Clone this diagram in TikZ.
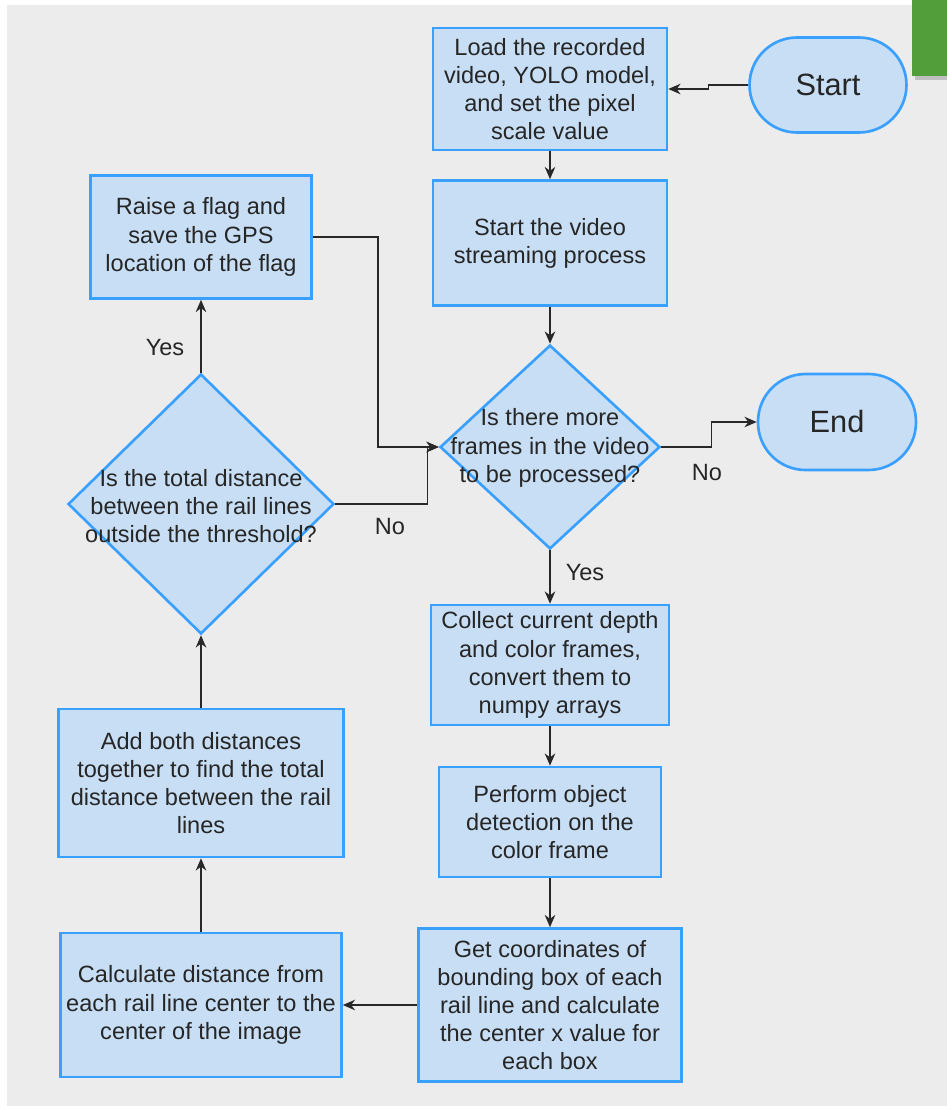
\documentclass[tikz,border=0pt]{standalone}
\usepackage{fontspec}
\setmainfont{Liberation Sans}
\usetikzlibrary{shapes.geometric,arrows.meta}

\definecolor{hintergrund}{RGB}{236,236,236}
\definecolor{kastenrand}{RGB}{58,160,255}
\definecolor{kastenfuell}{RGB}{200,222,244}
\definecolor{linie}{RGB}{40,40,40}
\definecolor{gruen}{RGB}{82,158,58}

\tikzset{
    kasten/.style={rectangle, draw=kastenrand, fill=kastenfuell, line width=1.5pt, align=center, inner sep=0pt},
    raute/.style={diamond, draw=kastenrand, fill=kastenfuell, line width=1.5pt, inner sep=0pt},
    terminal/.style={rectangle, rounded corners=0.95cm, draw=kastenrand, fill=kastenfuell, line width=1.5pt, font=\fontsize{17.5}{20}\selectfont},
    pfeil/.style={draw=linie, line width=0.8pt, -{Stealth[length=7pt,width=6pt]}},
    beschr/.style={font=\fontsize{13.4}{16}\selectfont}
}

\begin{document}
\begin{tikzpicture}[x=0.02cm, y=-0.02cm, font=\fontsize{13.4}{16}\selectfont, text=black!85]
            \useasboundingbox (0,0) rectangle (947,1106);
            \fill[white] (0,0) rectangle (947,1106);
            \fill[hintergrund] (7,5) rectangle (947,1106);
            \fill[black!25] (915,3) rectangle (947,80);
            \fill[gruen] (912,0) rectangle (947,76);

            % Kaesten rechts
            \node[kasten, minimum width=4.68cm, minimum height=2.44cm] (laden) at (550,89) {Load the recorded\\video, YOLO model,\\and set the pixel\\scale value};
            \node[terminal, minimum width=3.14cm, minimum height=1.9cm] (start) at (828,85) {Start};
            \node[kasten, minimum width=4.68cm, minimum height=2.5cm] (stream) at (550,243) {Start the video\\streaming process};
            \node[raute, minimum width=4.4cm, minimum height=4.08cm] (frage1) at (550,447) {};
            \node[align=center, inner sep=0pt] (frage1txt) at (550,448) {Is there more\\frames in the video\\to be processed?};
            \node[terminal, minimum width=3.16cm, minimum height=1.92cm] (ende) at (837,422) {End};
            \node[kasten, minimum width=4.76cm, minimum height=2.4cm] (sammeln) at (550,665) {Collect current depth\\and color frames,\\convert them to\\numpy arrays};
            \node[kasten, minimum width=4.44cm, minimum height=2.2cm] (erkennen) at (550,822) {Perform object\\detection on the\\color frame};
            \node[kasten, minimum width=5.26cm, minimum height=3.06cm] (koord) at (550,1005) {Get coordinates of\\bounding box of each\\rail line and calculate\\the center x value for\\each box};

            % Kaesten links
            \node[kasten, minimum width=5.62cm, minimum height=2.88cm] (abstand) at (201,1005) {Calculate distance from\\each rail line center to the\\center of the image};
            \node[kasten, minimum width=5.7cm, minimum height=2.96cm] (summe) at (201,783) {Add both distances\\together to find the total\\distance between the rail\\lines};
            \node[raute, minimum width=5.32cm, minimum height=5.2cm] (frage2) at (201,504) {};
            \node[align=center, inner sep=0pt] (frage2txt) at (201,506) {Is the total distance\\between the rail lines\\outside the threshold?};
            \node[kasten, minimum width=4.42cm, minimum height=2.46cm] (flagge) at (201,237) {Raise a flag and\\save the GPS\\location of the flag};

            % Pfeile
            \draw[pfeil] (start.west) -- ++(-40,0) |- (laden.east);
            \draw[pfeil] (laden) -- (stream);
            \draw[pfeil] (stream) -- (frage1);
            \draw[pfeil] (frage1.east) -- ++(50,0) |- (ende.west);
            \draw[pfeil] (frage1) -- (sammeln);
            \draw[pfeil] (sammeln) -- (erkennen);
            \draw[pfeil] (erkennen) -- (koord);
            \draw[pfeil] (koord) -- (abstand);
            \draw[pfeil] (abstand) -- (summe);
            \draw[pfeil] (summe) -- (frage2);
            \draw[pfeil] (frage2) -- (flagge);
            \draw[pfeil] (flagge.east) -- ++(65,0) |- (frage1.west);
            \draw[pfeil] (frage2.east) -- ++(92,0) |- (frage1.west);

            % Beschriftungen
            \node[beschr] (ja1) at (585,573) {Yes};
            \node[beschr] (nein1) at (707,473) {No};
            \node[beschr] (ja2) at (165,348) {Yes};
            \node[beschr] (nein2) at (390,527) {No};
\end{tikzpicture}
\end{document}
